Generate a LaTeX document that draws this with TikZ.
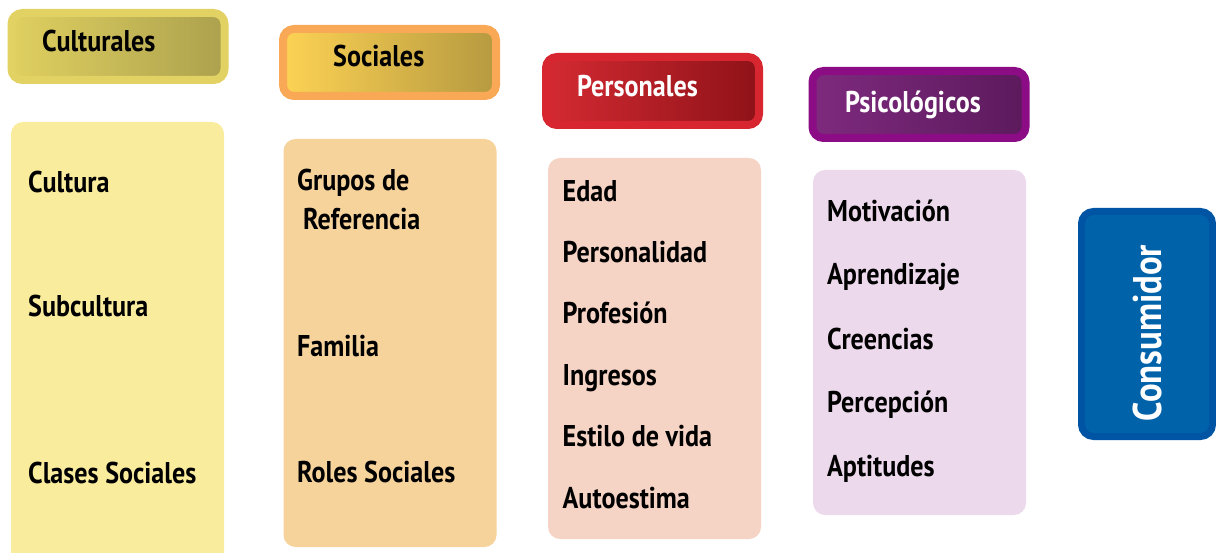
\documentclass[tikz,border=0pt]{standalone}
\usepackage{fontspec}
\setmainfont{PT Sans}[FakeStretch=0.87]
\definecolor{cultborde}{HTML}{E2D263}
\definecolor{cultizq}{HTML}{E0D060}
\definecolor{cultder}{HTML}{ACA14E}
\definecolor{cultfondo}{HTML}{F9EC9C}
\definecolor{socborde}{HTML}{F9A856}
\definecolor{socizq}{HTML}{FDD254}
\definecolor{socder}{HTML}{B69A40}
\definecolor{socfondo}{HTML}{F7D39C}
\definecolor{perborde}{HTML}{D7262F}
\definecolor{perizq}{HTML}{D42A32}
\definecolor{perder}{HTML}{8E1218}
\definecolor{perfondo}{HTML}{F5D3C5}
\definecolor{psiborde}{HTML}{8C0C86}
\definecolor{psiizq}{HTML}{7E2A7E}
\definecolor{psider}{HTML}{5C1A5C}
\definecolor{psifondo}{HTML}{EDD9EC}
\definecolor{conborde}{HTML}{0054A4}
\definecolor{confondo}{HTML}{0063AA}
\begin{document}
\begin{tikzpicture}[x=1pt, y=-1pt,
  titulo/.style={shape=rectangle, rounded corners=11pt, line width=8pt, inner sep=0pt, minimum width=213pt, minimum height=67pt},
  cuerpo/.style={shape=rectangle, rounded corners=12pt, inner sep=0pt, minimum width=213pt},
  texto/.style={anchor=base west, inner sep=0pt, font=\bfseries\fontsize{30}{36}\selectfont}]
\useasboundingbox (0,0) rectangle (1216,553);
% cabeceras
\node [titulo, draw=cultborde, left color=cultizq, right color=cultder] (cult) at (118,46.5) {};
\node [titulo, draw=socborde, left color=socizq, right color=socder] (soc) at (389.5,62.5) {};
\node [titulo, draw=perborde, left color=perizq, right color=perder, minimum height=68pt] (per) at (652.5,91) {};
\node [titulo, draw=psiborde, left color=psiizq, right color=psider] (psi) at (919,104.5) {};
\node [texto] (cultT) at (42,52) {Culturales};
\node [texto] (socT) at (333,67) {Sociales};
\node [texto, text=white] (perT) at (577,97) {Personales};
\node [texto, text=white] (psiT) at (845,113) {Psicológicos};
% cajas
\node [cuerpo, fill=cultfondo, minimum height=444pt] (cultC) at (117.5,344) {};
\node [cuerpo, fill=socfondo, minimum height=408pt] (socC) at (390,343) {};
\node [cuerpo, fill=perfondo, minimum height=381pt] (perC) at (654.5,348.5) {};
\node [cuerpo, fill=psifondo, minimum height=345pt] (psiC) at (919.5,342.5) {};
% culturales
\node [texto] (c1) at (28,193) {Cultura};
\node [texto] (c2) at (28,317) {Subcultura};
\node [texto] (c3) at (28,483) {Clases Sociales};
% sociales
\node [texto] (s1) at (297,191) {Grupos de};
\node [texto] (s2) at (303,230) {Referencia};
\node [texto] (s3) at (297,357) {Familia};
\node [texto] (s4) at (297,482) {Roles Sociales};
% personales
\node [texto] (p1) at (562.5,201.7) {Edad};
\node [texto] (p2) at (562.5,262.7) {Personalidad};
\node [texto] (p3) at (562.5,324) {Profesión};
\node [texto] (p4) at (562.5,385) {Ingresos};
\node [texto] (p5) at (562.5,446.7) {Estilo de vida};
\node [texto] (p6) at (562.5,508) {Autoestima};
% psicologicos
\node [texto] (q1) at (827,221.7) {Motivación};
\node [texto] (q2) at (827,285) {Aprendizaje};
\node [texto] (q3) at (827,350) {Creencias};
\node [texto] (q4) at (827,413) {Percepción};
\node [texto] (q5) at (827,476.7) {Aptitudes};
% consumidor
\node [shape=rectangle, rounded corners=12pt, line width=7pt, draw=conborde, fill=confondo, inner sep=0pt, minimum width=131pt, minimum height=225pt] (con) at (1147,324) {};
\node [rotate=90, text=white, inner sep=0pt, font=\bfseries\fontsize{40}{44}\selectfont] (conT) at (1147,333) {Consumidor};
\end{tikzpicture}
\end{document}
